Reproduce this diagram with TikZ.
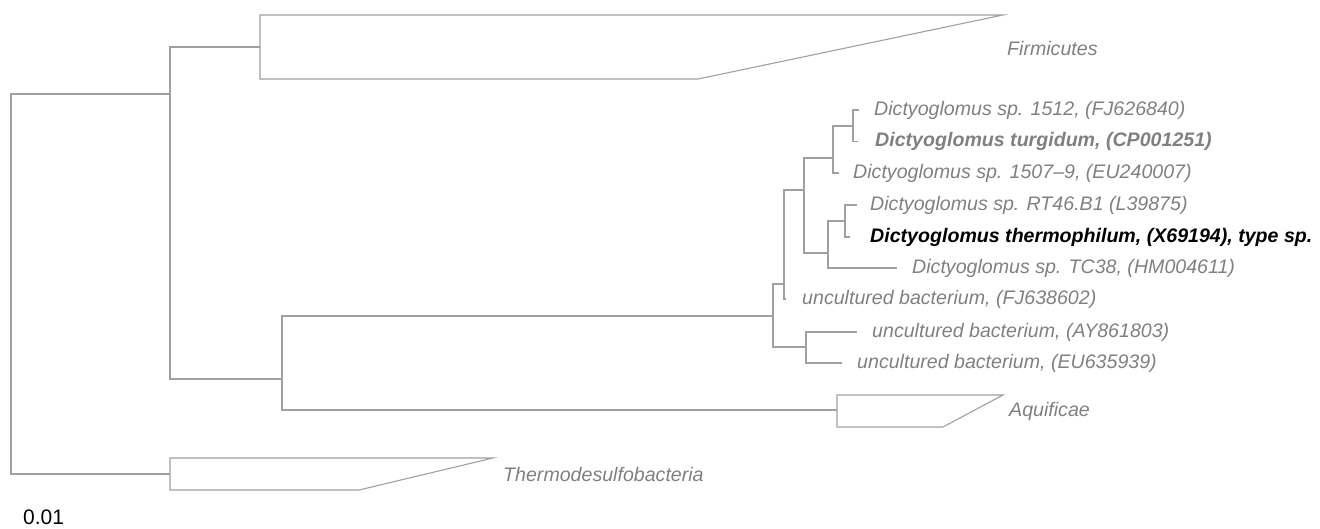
\documentclass[tikz,border=0pt]{standalone}
\usepackage{fontspec}
\setmainfont{Liberation Sans}
\definecolor{linegray}{RGB}{160,160,160}
\definecolor{textgray}{RGB}{128,128,128}
\begin{document}
\begin{tikzpicture}[x=1pt,y=-1pt,
  br/.style={draw=linegray, line width=1.1pt},
  lab/.style={anchor=west, inner sep=0pt, text=textgray, font=\fontsize{19.6}{22}\selectfont\itshape},
  blab/.style={anchor=west, inner sep=0pt, text=textgray, font=\fontsize{19.6}{22}\selectfont\itshape\bfseries},
  klab/.style={anchor=west, inner sep=0pt, text=black, font=\fontsize{19.6}{22}\selectfont\itshape\bfseries},
]
\useasboundingbox (0,0) rectangle (1320,528);

% internal nodes
\coordinate (root) at (11,283);
\coordinate (N10) at (170,94);
\coordinate (N9) at (282,379);
\coordinate (N8) at (773,316);
\coordinate (N7) at (806,347);
\coordinate (N6) at (784,284);
\coordinate (N5) at (804,190);
\coordinate (N4) at (828,253);
\coordinate (N3) at (845,221);
\coordinate (N2) at (833,158);
\coordinate (N1) at (853,126);

% leaf tips
\coordinate (t1) at (859,110);
\coordinate (t2) at (858,141.5);
\coordinate (t3) at (839,173);
\coordinate (t4) at (857,205);
\coordinate (t5) at (850,237);
\coordinate (t6) at (897,268);
\coordinate (t7) at (786,299);
\coordinate (t8) at (857,332);
\coordinate (t9) at (842,363);

% collapsed clades
\coordinate (fir) at (260,47);
\coordinate (aq) at (837,410);
\coordinate (th) at (170,474);
\draw[br] (260,15) -- (1003,15) -- (698,79) -- (260,79) -- cycle;
\draw[br] (837,395) -- (1003,395) -- (943,427) -- (837,427) -- cycle;
\draw[br] (170,458) -- (493,458) -- (359,490) -- (170,490) -- cycle;

% branches
\draw[br] (root) |- (N10);
\draw[br] (root) |- (th);
\draw[br] (N10) |- (fir);
\draw[br] (N10) |- (N9);
\draw[br] (N9) |- (N8);
\draw[br] (N9) |- (aq);
\draw[br] (N8) |- (N6);
\draw[br] (N8) |- (N7);
\draw[br] (N6) |- (N5);
\draw[br] (N6) |- (t7);
\draw[br] (N5) |- (N2);
\draw[br] (N5) |- (N4);
\draw[br] (N2) |- (N1);
\draw[br] (N2) |- (t3);
\draw[br] (N1) |- (t1);
\draw[br] (N1) |- (t2);
\draw[br] (N4) |- (N3);
\draw[br] (N4) |- (t6);
\draw[br] (N3) |- (t4);
\draw[br] (N3) |- (t5);
\draw[br] (N7) |- (t8);
\draw[br] (N7) |- (t9);

% labels
\node[lab] (l1) at (874,110) {Dictyoglomus sp. 1512, (FJ626840)};
\node[blab] (l2) at (875,141.5) {Dictyoglomus turgidum, (CP001251)};
\node[lab] (l3) at (853,173) {Dictyoglomus sp. 1507–9, (EU240007)};
\node[lab] (l4) at (870,205) {Dictyoglomus sp. RT46.B1 (L39875)};
\node[klab] (l5) at (870,237) {Dictyoglomus thermophilum, (X69194), type sp.};
\node[lab] (l6) at (912,268) {Dictyoglomus sp. TC38, (HM004611)};
\node[lab] (l7) at (802,299) {uncultured bacterium, (FJ638602)};
\node[lab] (l8) at (872,332) {uncultured bacterium, (AY861803)};
\node[lab] (l9) at (857,363) {uncultured bacterium, (EU635939)};
\node[lab] (lfir) at (1007,48) {Firmicutes};
\node[lab] (laq) at (1009,411) {Aquificae};
\node[lab] (lth) at (503,474) {Thermodesulfobacteria};
\node[anchor=base west, inner sep=0pt, text=black, font=\fontsize{21}{24}\selectfont] (scale) at (23,524) {0.01};
\end{tikzpicture}
\end{document}
